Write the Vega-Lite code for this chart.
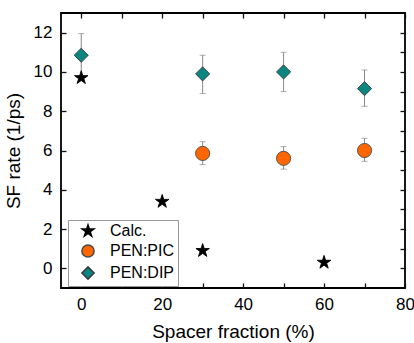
{
  "$schema": "https://vega.github.io/schema/vega-lite/v6.json",
  "width": 344,
  "height": 275,
  "autosize": {"type": "none"},
  "padding": {"left": 61, "top": 13, "right": 9, "bottom": 55},
  "background": "white",
  "config": {
    "font": "Liberation Sans",
    "view": {"stroke": "black", "strokeWidth": 1.8},
    "axis": {
      "domain": false,
      "grid": false,
      "zindex": 1,
      "tickColor": "#111111",
      "tickWidth": 1.3,
      "tickSize": -5,
      "labelFont": "Liberation Sans",
      "labelFontSize": 17,
      "labelColor": "black",
      "titleFont": "Liberation Sans",
      "titleFontSize": 19,
      "titleFontWeight": "normal",
      "titleColor": "black"
    }
  },
  "data": {
    "values": [
      {"series": "PEN:DIP", "x": 0, "y": 10.85, "lo": 9.8, "hi": 11.95},
      {"series": "PEN:DIP", "x": 30, "y": 9.9, "lo": 8.9, "hi": 10.85},
      {"series": "PEN:DIP", "x": 50, "y": 10.0, "lo": 9.0, "hi": 11.0},
      {"series": "PEN:DIP", "x": 70, "y": 9.15, "lo": 8.25, "hi": 10.1},
      {"series": "PEN:PIC", "x": 30, "y": 5.85, "lo": 5.28, "hi": 6.45},
      {"series": "PEN:PIC", "x": 50, "y": 5.6, "lo": 5.05, "hi": 6.2},
      {"series": "PEN:PIC", "x": 70, "y": 6.0, "lo": 5.45, "hi": 6.62},
      {"series": "Calc.", "x": 0, "y": 9.7},
      {"series": "Calc.", "x": 20, "y": 3.4},
      {"series": "Calc.", "x": 30, "y": 0.9},
      {"series": "Calc.", "x": 60, "y": 0.3}
    ]
  },
  "layer": [
    {
      "layer": [
        {
          "transform": [{"filter": "isValid(datum.lo)"}],
          "mark": {
            "type": "errorbar",
            "ticks": {"size": 6, "color": "#8a8a8a"},
            "rule": {"color": "#8a8a8a", "strokeWidth": 1}
          },
          "encoding": {
            "x": {"field": "x", "type": "quantitative"},
            "y": {"field": "lo", "type": "quantitative", "title": "SF rate (1/ps)"},
            "y2": {"field": "hi"}
          }
        },
        {
          "mark": {"type": "point", "filled": true, "opacity": 1, "strokeWidth": 0.9, "size": 200},
          "encoding": {
            "x": {
              "field": "x",
              "type": "quantitative",
              "scale": {"domain": [-5, 80], "nice": false, "zero": false},
              "axis": {
                "title": "Spacer fraction (%)",
                "values": [0, 10, 20, 30, 40, 50, 60, 70, 80],
                "labelExpr": "datum.value % 20 === 0 ? datum.label : ''",
                "tickSize": -5,
                "labelPadding": 13,
                "titlePadding": 10,
                "labelFlush": false
              }
            },
            "y": {
              "field": "y",
              "type": "quantitative",
              "title": "SF rate (1/ps)",
              "scale": {"domain": [-1, 13], "nice": false, "zero": false},
              "axis": {
                "title": "SF rate (1/ps)",
                "values": [0, 1, 2, 3, 4, 5, 6, 7, 8, 9, 10, 11, 12],
                "labelExpr": "datum.value % 2 === 0 ? datum.label : ''",
                "tickSize": -5,
                "labelPadding": 14,
                "titlePadding": 10,
                "labelFlush": false
              }
            },
            "fill": {
              "field": "series",
              "type": "nominal",
              "scale": {"domain": ["Calc.", "PEN:PIC", "PEN:DIP"], "range": ["black", "#FF6600", "#0B8580"]},
              "legend": {
                "title": null,
                "orient": "none",
                "legendX": 7,
                "legendY": 207,
                "strokeColor": "#999999",
                "fillColor": "white",
                "padding": 3,
                "labelFontSize": 16,
                "labelFont": "Liberation Sans",
                "labelColor": "black",
                "symbolSize": 150,
                "rowPadding": 2,
                "labelOffset": 14,
                "symbolOffset": 9
              }
            },
            "stroke": {
              "field": "series",
              "type": "nominal",
              "scale": {"domain": ["Calc.", "PEN:PIC", "PEN:DIP"], "range": ["black", "#4a4a4a", "#3a3a3a"]}
            },
            "shape": {
              "field": "series",
              "type": "nominal",
              "scale": {
                "domain": ["Calc.", "PEN:PIC", "PEN:DIP"],
                "range": ["M0,-1L0.2245,-0.309L0.951,-0.309L0.363,0.118L0.588,0.809L0,0.382L-0.588,0.809L-0.363,0.118L-0.951,-0.309L-0.2245,-0.309Z", "circle", "diamond"]
              }
            }
          }
        }
      ]
    },
    {
      "mark": {"type": "point", "opacity": 0},
      "encoding": {
        "x": {
          "field": "x",
          "type": "quantitative",
          "scale": {"domain": [-5, 80], "nice": false, "zero": false},
          "axis": {
            "orient": "top",
            "title": null,
            "labels": false,
            "values": [0, 10, 20, 30, 40, 50, 60, 70, 80],
            "tickSize": -5
          }
        },
        "y": {
          "field": "y",
          "type": "quantitative",
          "scale": {"domain": [-1, 13], "nice": false, "zero": false},
          "axis": {
            "orient": "right",
            "title": null,
            "labels": false,
            "values": [0, 1, 2, 3, 4, 5, 6, 7, 8, 9, 10, 11, 12],
            "tickSize": -5
          }
        }
      }
    }
  ],
  "resolve": {"scale": {"x": "independent", "y": "independent"}, "axis": {"x": "independent", "y": "independent"}}
}
